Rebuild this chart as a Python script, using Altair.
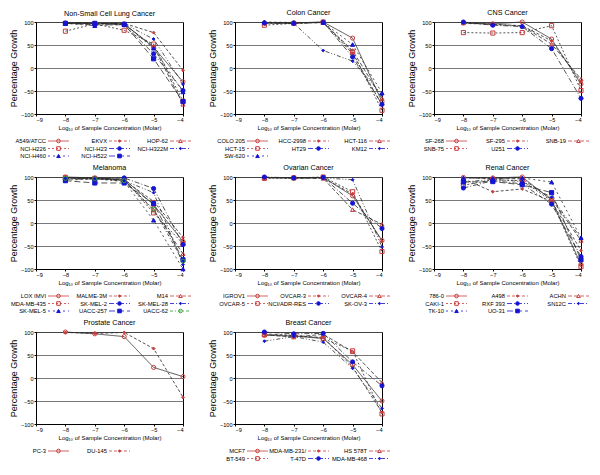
import altair as alt
import pandas as pd

CONCENTRATIONS = [-8, -7, -6, -5, -4]
X_TICKS = [-9, -8, -7, -6, -5, -4]
Y_TICKS = [-100, -50, 0, 50, 100]

NSCLC_TITLE = "Non-Small Cell Lung Cancer"
NSCLC_LINES = ["A549/ATCC", "EKVX", "HOP-62", "NCI-H226", "NCI-H23", "NCI-H322M", "NCI-H460", "NCI-H522"]
NSCLC_GROWTH = [
    [98, 97, 96, 45, -30],
    [97, 96, 97, 77, -5],
    [98, 97, 95, 47, -79],
    [80, 96, 82, 52, -72],
    [97, 94, 94, 31, -49],
    [97, 97, 96, 63, -35],
    [97, 92, 95, 43, -52],
    [97, 97, 95, 20, -73],
]

COLON_TITLE = "Colon Cancer"
COLON_LINES = ["COLO 205", "HCC-2998", "HCT-116", "HCT-15", "HT29", "KM12", "SW-620"]
COLON_GROWTH = [
    [98, 98, 100, 65, -73],
    [98, 97, 99, 31, -80],
    [98, 98, 99, 38, -66],
    [93, 97, 100, 35, -92],
    [98, 97, 99, 24, -79],
    [98, 97, 38, 15, -58],
    [100, 99, 99, 51, -54],
]

CNS_TITLE = "CNS Cancer"
CNS_LINES = ["SF-268", "SF-295", "SNB-19", "SNB-75", "U251"]
CNS_GROWTH = [
    [98, 96, 100, 63, -35],
    [97, 95, 92, 59, -30],
    [98, 95, 91, 52, -24],
    [77, 76, 77, 92, -49],
    [100, 93, 90, 42, -66],
]

MELANOMA_TITLE = "Melanoma"
MELANOMA_LINES = ["LOX IMVI", "MALME-3M", "M14", "MDA-MB-435", "SK-MEL-2", "SK-MEL-28", "SK-MEL-5", "UACC-257", "UACC-62"]
MELANOMA_GROWTH = [
    [100, 98, 95, 40, -40],
    [98, 97, 93, 47, -31],
    [98, 97, 93, 28, -67],
    [99, 97, 94, 22, -45],
    [95, 96, 98, 75, -47],
    [97, 97, 92, 66, -90],
    [93, 96, 90, 6, -100],
    [92, 87, 87, 42, -80],
    [97, 96, 92, 30, -83],
]

OVARIAN_TITLE = "Ovarian Cancer"
OVARIAN_LINES = ["IGROV1", "OVCAR-3", "OVCAR-4", "OVCAR-5", "NCI/ADR-RES", "SK-OV-3"]
OVARIAN_GROWTH = [
    [99, 98, 99, 59, -38],
    [98, 98, 98, 63, -40],
    [99, 98, 97, 29, -3],
    [97, 98, 100, 68, -62],
    [100, 98, 99, 43, -12],
    [99, 98, 98, 94, -52],
]

RENAL_TITLE = "Renal Cancer"
RENAL_LINES = ["786-0", "A498", "ACHN", "CAKI-1", "RXF 393", "SN12C", "TK-10", "UO-31"]
RENAL_GROWTH = [
    [99, 98, 100, 50, -90],
    [96, 68, 74, 47, -60],
    [98, 97, 96, 52, -38],
    [82, 94, 92, 48, -95],
    [76, 92, 85, 41, -73],
    [89, 95, 90, 56, -33],
    [98, 97, 98, 89, -32],
    [89, 90, 83, 66, -80],
]

PROSTATE_TITLE = "Prostate Cancer"
PROSTATE_LINES = ["PC-3", "DU-145"]
PROSTATE_GROWTH = [
    [100, 96, 90, 23, 3],
    [99, 97, 99, 64, -42],
]

BREAST_TITLE = "Breast Cancer"
BREAST_LINES = ["MCF7", "MDA-MB-231/", "HS 578T", "BT-549", "T-47D", "MDA-MB-468"]
BREAST_GROWTH = [
    [93, 91, 86, 29, -50],
    [96, 92, 88, 24, -75],
    [94, 89, 95, 57, -10],
    [94, 93, 86, 59, -78],
    [100, 96, 97, 35, -17],
    [80, 90, 78, 21, -66],
]

PANELS = [
    (NSCLC_TITLE, NSCLC_LINES, NSCLC_GROWTH),
    (COLON_TITLE, COLON_LINES, COLON_GROWTH),
    (CNS_TITLE, CNS_LINES, CNS_GROWTH),
    (MELANOMA_TITLE, MELANOMA_LINES, MELANOMA_GROWTH),
    (OVARIAN_TITLE, OVARIAN_LINES, OVARIAN_GROWTH),
    (RENAL_TITLE, RENAL_LINES, RENAL_GROWTH),
    (PROSTATE_TITLE, PROSTATE_LINES, PROSTATE_GROWTH),
    (BREAST_TITLE, BREAST_LINES, BREAST_GROWTH),
]

# ---- styles (by position of the cell line within its panel) ----
RED = "#c83c3c"
BLUE = "#1414d2"
GREEN = "#2e9a2e"
SMALL_DIAMOND = "M0,-0.7L0.7,0L0,0.7L-0.7,0Z"
SHAPES = ["circle", SMALL_DIAMOND, "triangle-up", "square", "circle", SMALL_DIAMOND, "triangle-up", "square", "circle"]
STROKES = [RED, RED, RED, RED, BLUE, BLUE, BLUE, BLUE, GREEN]
FILLS = ["transparent", RED, "transparent", "transparent", BLUE, BLUE, BLUE, BLUE, "transparent"]
DASHES = [[1, 0], [3, 2], [4, 2], [2, 2], [5, 2, 1, 2], [4, 2, 1, 2, 1, 2], [2, 3], [6, 3], [3, 2, 1, 2]]
LINE_COLOR = "#2a2a2a"
FONT = "Liberation Sans"

# ---- layout ----
W, H = 147, 92
LEG_COLS = 3
LEG_X0 = 10       # px from plot left to right edge of first legend label column
LEG_PITCH = 61    # px between legend columns
LEG_SEG = (2, 23)  # sample segment start/end (px right of label)
LEG_TOP = 27      # px below plot bottom of first legend row
LEG_STEP = 7.5    # px between legend rows


def make_panel(title, names, growth):
    k = len(names)
    df = pd.DataFrame(
        [{"line": n, "conc": c, "growth": g}
         for n, vals in zip(names, growth)
         for c, g in zip(CONCENTRATIONS, vals)]
    )
    key = pd.DataFrame({
        "line": names,
        "col": [i % LEG_COLS for i in range(k)],
        "row": [i // LEG_COLS for i in range(k)],
    })

    shape_s = alt.Scale(domain=names, range=SHAPES[:k])
    stroke_s = alt.Scale(domain=names, range=STROKES[:k])
    fill_s = alt.Scale(domain=names, range=FILLS[:k])
    dash_s = alt.Scale(domain=names, range=DASHES[:k])

    x_enc = alt.X(
        "conc:Q",
        scale=alt.Scale(domain=[-9, -4], nice=False, zero=False),
        axis=alt.Axis(values=X_TICKS, title="Log\u2081\u2080 of Sample Concentration (Molar)",
                      grid=False, format="d", titleFontSize=6),
    )
    y_enc = alt.Y(
        "growth:Q",
        scale=alt.Scale(domain=[-100, 100], nice=False),
        axis=alt.Axis(values=Y_TICKS, title="Percentage Growth", grid=True, titleFontSize=9),
    )
    lines = alt.Chart(df).mark_line(color=LINE_COLOR, strokeWidth=0.8).encode(
        x=x_enc, y=y_enc,
        strokeDash=alt.StrokeDash("line:N", scale=dash_s, legend=None),
    )
    points = alt.Chart(df).mark_point(opacity=1, strokeWidth=1, size=17).encode(
        x=x_enc, y=y_enc,
        shape=alt.Shape("line:N", scale=shape_s, legend=None),
        stroke=alt.Stroke("line:N", scale=stroke_s, legend=None),
        fill=alt.Fill("line:N", scale=fill_s, legend=None),
    )
    plot = alt.layer(lines, points)

    # key below the plot, laid out by column / row index
    kx = alt.Scale(domain=[-LEG_X0 / LEG_PITCH, (W - LEG_X0) / LEG_PITCH], nice=False, zero=False)
    ky = alt.Scale(domain=[-(H + LEG_TOP) / LEG_STEP, -LEG_TOP / LEG_STEP], nice=False, zero=False, reverse=True)
    base = alt.Chart(key).transform_calculate(
        seg_a=f"datum.col + {LEG_SEG[0] / LEG_PITCH}",
        seg_b=f"datum.col + {LEG_SEG[1] / LEG_PITCH}",
        seg_m=f"datum.col + {(LEG_SEG[0] + LEG_SEG[1]) / 2 / LEG_PITCH}",
    )
    key_text = base.mark_text(align="right", baseline="middle", fontSize=5.8, font=FONT, color="black").encode(
        x=alt.X("col:Q", scale=kx, axis=None),
        y=alt.Y("row:Q", scale=ky, axis=None),
        text="line:N",
    )
    key_seg = base.mark_rule(strokeWidth=0.8).encode(
        x=alt.X("seg_a:Q", scale=kx, axis=None),
        x2="seg_b:Q",
        y=alt.Y("row:Q", scale=ky, axis=None),
        stroke=alt.Stroke("line:N", scale=stroke_s, legend=None),
        strokeDash=alt.StrokeDash("line:N", scale=dash_s, legend=None),
    )
    key_pts = base.mark_point(opacity=1, strokeWidth=1, size=13).encode(
        x=alt.X("seg_m:Q", scale=kx, axis=None),
        y=alt.Y("row:Q", scale=ky, axis=None),
        shape=alt.Shape("line:N", scale=shape_s, legend=None),
        stroke=alt.Stroke("line:N", scale=stroke_s, legend=None),
        fill=alt.Fill("line:N", scale=fill_s, legend=None),
    )
    key_layer = alt.layer(key_text, key_seg, key_pts)

    return alt.layer(plot, key_layer).resolve_scale(
        x="independent", y="independent"
    ).properties(
        width=W, height=H,
        title=alt.TitleParams(title, fontSize=7.2, font=FONT, fontWeight="normal", anchor="middle", offset=2),
    )


panels = [make_panel(*p) for p in PANELS]

chart = alt.concat(
    *panels, columns=3, spacing={"row": 63, "column": 52}, bounds="flush"
).resolve_scale(
    x="independent", y="independent",
    shape="independent", stroke="independent", fill="independent", strokeDash="independent"
).properties(
    padding={"left": 0, "top": 0, "right": 0, "bottom": 0}
).configure_axis(
    labelFont=FONT, titleFont=FONT, labelFontSize=5.6,
    titleFontWeight="normal", labelColor="black", titleColor="black",
    tickColor="black", domainColor="black", tickSize=2, labelPadding=1,
    titlePadding=2, gridColor="#555555", gridWidth=0.8,
).configure_view(
    stroke="black", strokeWidth=1
)

chart.save("out.html", embed_options={"renderer": "svg", "actions": False})
